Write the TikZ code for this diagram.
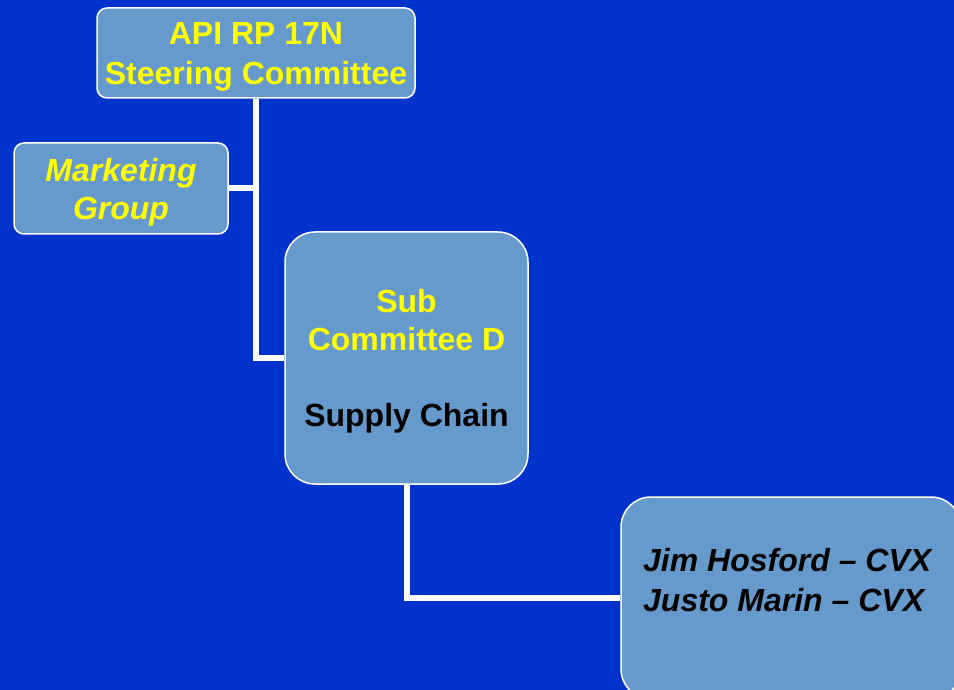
\documentclass[tikz,border=0pt]{standalone}
\usepackage{fontspec}
\setmainfont{Liberation Sans}
\definecolor{bgblue}{RGB}{0,51,204}
\definecolor{boxblue}{RGB}{102,153,204}
\definecolor{ylw}{RGB}{255,255,0}
\tikzset{
  orgbox/.style={draw=white, line width=1.5pt, fill=boxblue, rounded corners=#1,
    align=center, font=\fontsize{32}{38}\selectfont\bfseries, inner sep=0pt},
  orgbox/.default=10pt,
  link/.style={draw=white, line width=6pt}
}
\begin{document}
\begin{tikzpicture}[x=1pt,y=-1pt]
        \clip (0,0) rectangle (954,690);
        \fill[bgblue] (0,0) rectangle (954,690);
        % boxes
        \node[orgbox, text=ylw, minimum width=318pt, minimum height=90pt, text depth=-5pt, font=\fontsize{32}{40}\selectfont\bfseries] (steer) at (256,53) {API RP 17N\\Steering Committee};
        \node[orgbox, text=ylw, minimum width=214pt, minimum height=91pt, text depth=-5pt, font=\fontsize{32}{38}\selectfont\bfseries\itshape] (mkt) at (121,188.5) {Marketing\\Group};
        \node[orgbox=30pt, text=black, minimum width=243pt, minimum height=252pt, text depth=-2.5pt] (subd) at (406.5,358) {\textcolor{ylw}{Sub}\\\textcolor{ylw}{Committee D}\\[38pt]Supply Chain};
        \node[orgbox=30pt, minimum width=340pt, minimum height=202pt] (names) at (791,598) {};
        \node[anchor=west, align=left, inner sep=0pt, font=\fontsize{32}{40}\selectfont\bfseries\itshape] (namestext) at (643,580) {Jim Hosford – CVX\\Justo Marin – CVX};
        % links
        \draw[link] (steer.south) |- (subd.west);
        \draw[link] (mkt.east) -- (mkt.east -| steer.south);
        \draw[link] (subd.south) |- (names.west);
\end{tikzpicture}
\end{document}
